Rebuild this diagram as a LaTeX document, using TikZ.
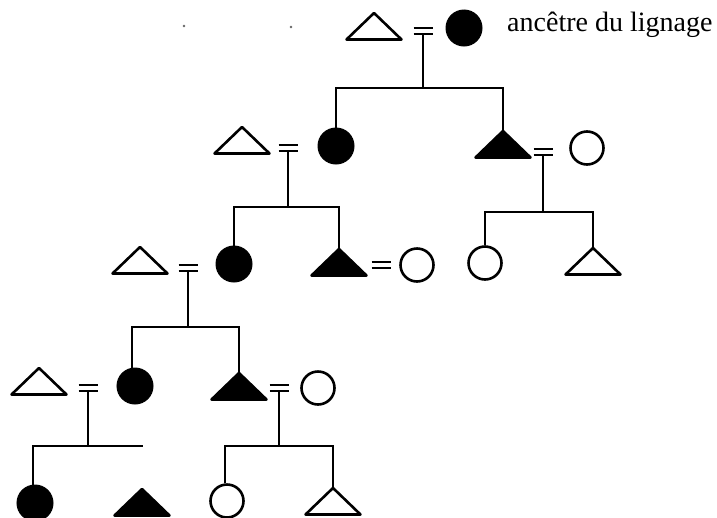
\documentclass[tikz,border=0pt]{standalone}
\usepackage{fontspec}
\newfontfamily\timesf{Liberation Serif}
\usetikzlibrary{calc}
\tikzset{
  lin/.style={line width=2.6pt, line cap=butt},
  openc/.style={circle, draw, line width=2.6pt, fill=white, minimum size=33pt, inner sep=0pt},
  fullc/.style={circle, fill=black, draw=black, line width=1pt, minimum size=36pt, inner sep=0pt},
  eqline/.style={line width=2.6pt},
  label/.style={anchor=base west, inner sep=0pt, font=\timesf\fontsize{28}{30}\selectfont, text=black}
}
% triangle: name, x, y (apex), fill
\newcommand\mytri[4]{%
  \coordinate (#1) at (#2,#3);
  \draw[line width=2.6pt, line join=round, fill=#4] (#1) -- ++(-27.5,26.5) -- ++(55,0) -- cycle;}
% equals sign: name (centre of lower bar), x, y of lower bar
\newcommand\myeq[3]{%
  \coordinate (#1) at (#2,#3);
  \draw[eqline] ($(#1)+(-9.5,-6)$) -- ++(19,0);
  \draw[eqline] ($(#1)+(-9.5,0)$) -- ++(19,0);}
\begin{document}
\begin{tikzpicture}[x=1pt,y=-1pt]
\useasboundingbox (0,0) rectangle (717,517);
% stray dots
\fill[black!60] (184,26) circle (1.4) (291,27) circle (1.4);
% ---- generation 0
\mytri{t0}{374}{13}{white}
\myeq{e0}{423}{34}
\node[fullc] (c0) at (464,28) {};
\node[label] (lab) at (507,31) {ancêtre du lignage};
\coordinate (b0) at (423,88);
% ---- generation 1
\mytri{t1a}{242}{127}{white}
\myeq{e1a}{288}{151}
\node[fullc] (c1) at (336,146) {};
\mytri{t1b}{503}{131}{black}
\myeq{e1b}{543}{155}
\node[openc] (c1b) at (587,148) {};
\coordinate (b1a) at (288,207);
\coordinate (b1b) at (543,212);
\node[openc] (c2c) at (485,263) {};
\mytri{t2c}{593}{248}{white}
% ---- generation 2
\mytri{t2a}{140}{247}{white}
\myeq{e2a}{188}{271}
\node[fullc] (c2) at (234,264) {};
\mytri{t2b}{339}{249}{black}
\myeq{e2b}{381}{268}
\node[openc] (c2b) at (417,265) {};
\coordinate (b2a) at (188,327);
% ---- generation 3
\mytri{t3a}{39}{368}{white}
\myeq{e3a}{88}{391}
\node[fullc] (c3) at (135,386) {};
\mytri{t3b}{239}{373}{black}
\myeq{e3b}{279}{391}
\node[openc] (c3b) at (318,388) {};
\coordinate (b3a) at (88,446);
\coordinate (b3aend) at (143,446);
\coordinate (b3b) at (279,446);
% ---- generation 4
\node[fullc] (c4a) at (35,503) {};
\mytri{t4b}{142}{489}{black}
\node[openc] (c4c) at (227,501) {};
\mytri{t4d}{333}{488}{white}
% ---- connectors
\draw[lin] (e0) -- (b0);
\draw[lin] (c1.north) |- (b0) -| (t1b);
\draw[lin] (e1a) -- (b1a);
\draw[lin] (c2.north) |- (b1a) -| (t2b);
\draw[lin] (e1b) -- (b1b);
\draw[lin] (c2c.north) |- (b1b) -| (t2c);
\draw[lin] (e2a) -- (b2a);
\draw[lin] (c3.north -| 132,0) |- (b2a) -| (t3b);
\draw[lin] (e3a) -- (b3a);
\draw[lin] (c4a.north -| 33,0) |- (b3a) -- (b3aend);
\draw[lin] (e3b) -- (b3b);
\draw[lin] (c4c.north -| 225,0) |- (b3b) -| (t4d);
\end{tikzpicture}
\end{document}
